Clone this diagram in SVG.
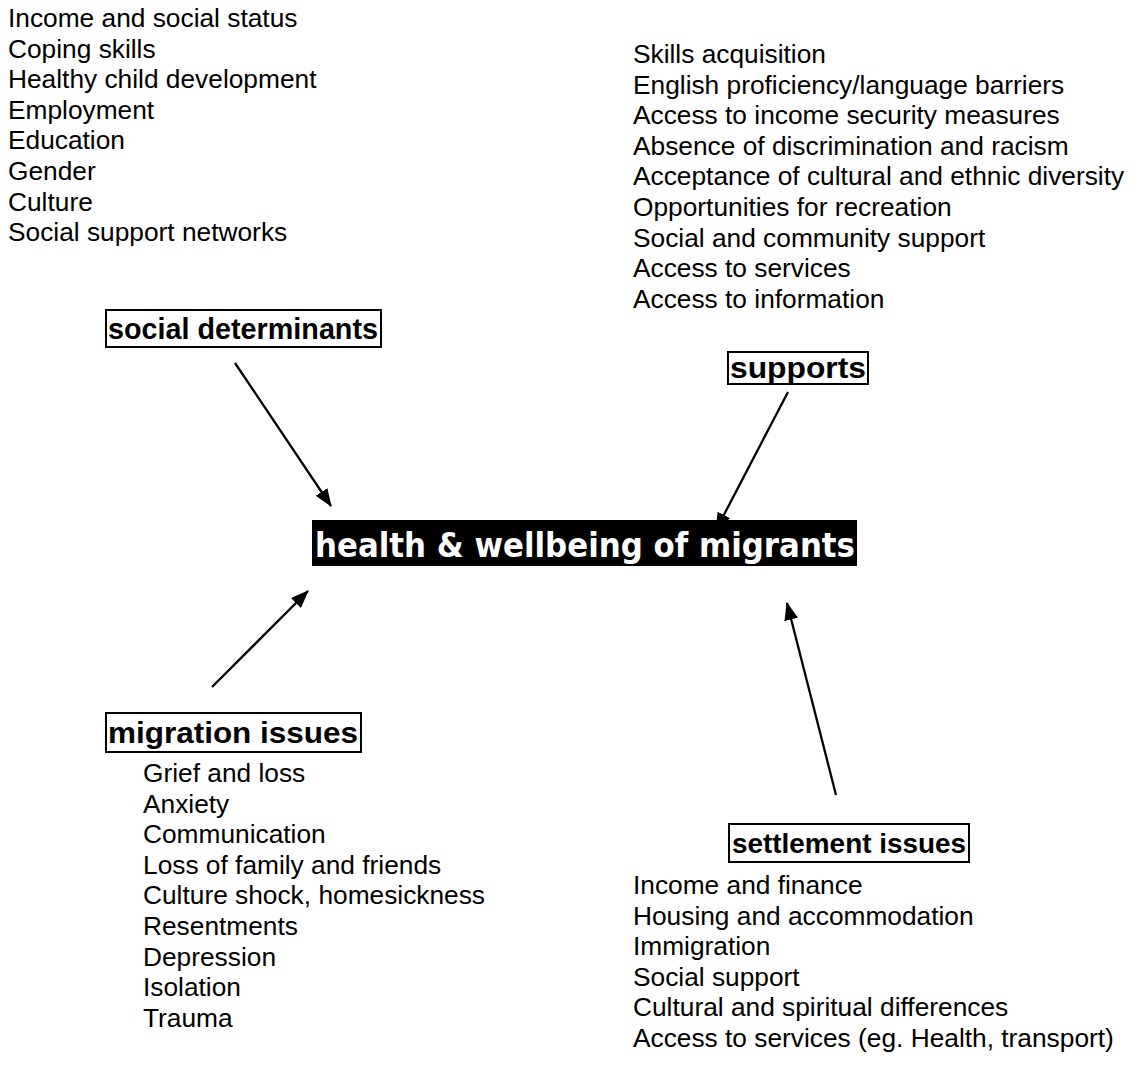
<svg xmlns="http://www.w3.org/2000/svg" width="1138" height="1084" viewBox="0 0 1138 1084">
<defs>
<marker id="arr" viewBox="0 0 18 14" refX="17" refY="7" markerWidth="18" markerHeight="14" markerUnits="userSpaceOnUse" orient="auto">
<path d="M0,0 L18,7 L0,14 z" fill="#000"/>
</marker>
<style>
.list{font-family:"Liberation Sans",Arial,sans-serif;font-size:26.3px;fill:#000}
.lbl{font-family:"Liberation Sans",Arial,sans-serif;font-weight:bold;fill:#000}
.box{fill:#fff;stroke:#000;stroke-width:2}
.conn{stroke:#000;stroke-width:2.3;fill:none;marker-end:url(#arr)}
</style>
</defs>
<rect width="1138" height="1084" fill="#fff"/>
<g id="connectors">
<line class="conn" x1="235" y1="363" x2="331" y2="506"/>
<line class="conn" x1="788" y1="392" x2="716" y2="530"/>
<line class="conn" x1="212" y1="687" x2="308" y2="591"/>
<line class="conn" x1="836" y1="795" x2="787" y2="603"/>
</g>
<g id="list-social-determinants" class="list">
<text x="8" y="27">Income and social status</text>
<text x="8" y="57.6">Coping skills</text>
<text x="8" y="88.2">Healthy child development</text>
<text x="8" y="118.8">Employment</text>
<text x="8" y="149.4">Education</text>
<text x="8" y="180">Gender</text>
<text x="8" y="210.6">Culture</text>
<text x="8" y="241.2">Social support networks</text>
</g>
<g id="list-supports" class="list">
<text x="633" y="63">Skills acquisition</text>
<text x="633" y="93.6">English proficiency/language barriers</text>
<text x="633" y="124.2">Access to income security measures</text>
<text x="633" y="154.8">Absence of discrimination and racism</text>
<text x="633" y="185.4">Acceptance of cultural and ethnic diversity</text>
<text x="633" y="216">Opportunities for recreation</text>
<text x="633" y="246.6">Social and community support</text>
<text x="633" y="277.2">Access to services</text>
<text x="633" y="307.8">Access to information</text>
</g>
<g id="node-social-determinants">
<rect class="box" x="106" y="310" width="275" height="37"/>
<text class="lbl" x="108" y="339" font-size="28.8" textLength="270" lengthAdjust="spacingAndGlyphs">social determinants</text>
</g>
<g id="node-supports">
<rect class="box" x="728" y="352" width="140" height="32"/>
<text class="lbl" x="730" y="378" font-size="30" textLength="136" lengthAdjust="spacingAndGlyphs">supports</text>
</g>
<g id="node-health">
<rect x="312" y="520" width="545" height="46" fill="#000"/>
<text x="315" y="557" font-family="'DejaVu Sans',Verdana,sans-serif" font-weight="bold" font-size="33" fill="#fff" textLength="540" lengthAdjust="spacingAndGlyphs">health &amp; wellbeing of migrants</text>
</g>
<g id="node-migration-issues">
<rect class="box" x="106" y="713" width="255" height="39"/>
<text class="lbl" x="108" y="743" font-size="30" textLength="250" lengthAdjust="spacingAndGlyphs">migration issues</text>
</g>
<g id="node-settlement-issues">
<rect class="box" x="729" y="824" width="240" height="38"/>
<text class="lbl" x="732" y="853" font-size="28.5" textLength="234" lengthAdjust="spacingAndGlyphs">settlement issues</text>
</g>
<g id="list-migration-issues" class="list">
<text x="143" y="782">Grief and loss</text>
<text x="143" y="812.6">Anxiety</text>
<text x="143" y="843.2">Communication</text>
<text x="143" y="873.8">Loss of family and friends</text>
<text x="143" y="904.4">Culture shock, homesickness</text>
<text x="143" y="935">Resentments</text>
<text x="143" y="965.6">Depression</text>
<text x="143" y="996.2">Isolation</text>
<text x="143" y="1026.8">Trauma</text>
</g>
<g id="list-settlement-issues" class="list">
<text x="633" y="894">Income and finance</text>
<text x="633" y="924.6">Housing and accommodation</text>
<text x="633" y="955.2">Immigration</text>
<text x="633" y="985.8">Social support</text>
<text x="633" y="1016.4">Cultural and spiritual differences</text>
<text x="633" y="1047">Access to services (eg. Health, transport)</text>
</g>
</svg>
